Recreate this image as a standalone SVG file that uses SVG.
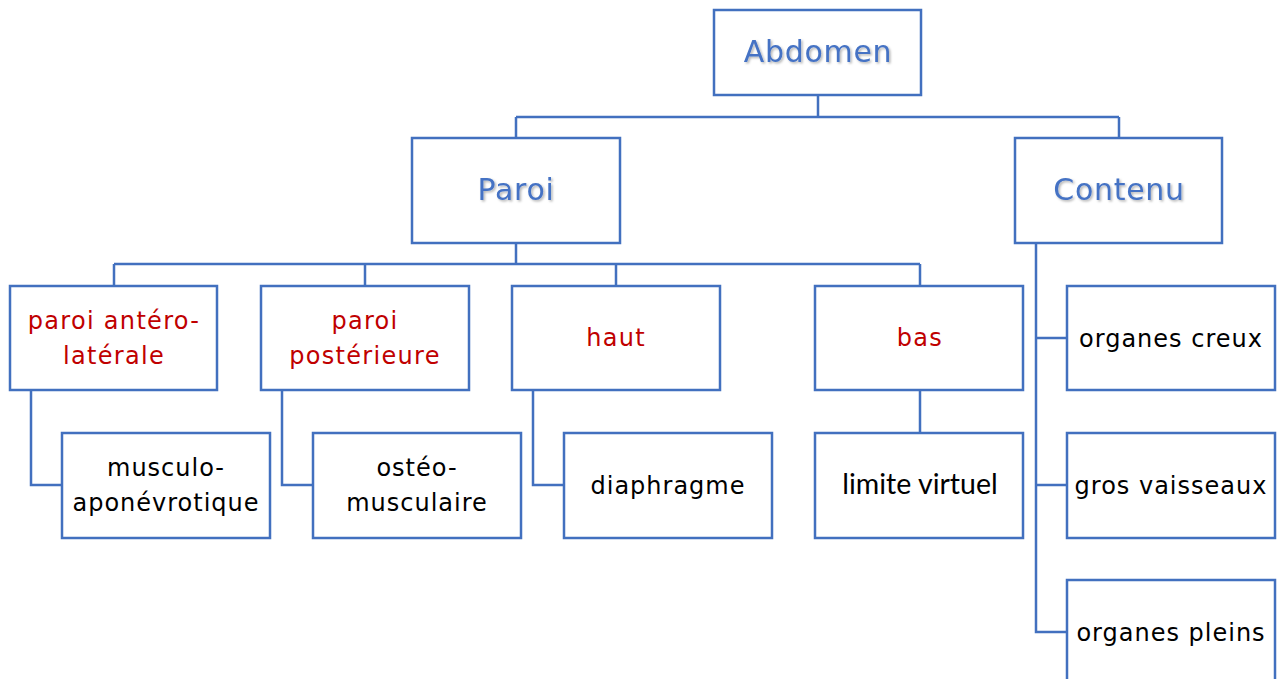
<svg xmlns="http://www.w3.org/2000/svg" width="1280" height="679" viewBox="0 0 1280 679">
<defs>
<filter id="sh" x="-10%" y="-30%" width="130%" height="160%">
<feDropShadow dx="1.5" dy="1.5" stdDeviation="1" flood-color="#000" flood-opacity="0.3"/>
</filter>
<style>
.box{fill:#fff;stroke:#4270BF;stroke-width:2.5}
.con{fill:none;stroke:#4270BF;stroke-width:2.5}
.t{font-family:"DejaVu Sans",Verdana,sans-serif;text-anchor:middle}
.top{font-size:30px;fill:#4472C4;filter:url(#sh);letter-spacing:0.7px}
.red{font-size:24px;fill:#C00000;letter-spacing:1.3px}
.blk{font-size:24px;fill:#000;letter-spacing:1px}
.cal{font-family:Lato,"Open Sans",sans-serif;font-size:28.5px;fill:#000;text-anchor:middle}
</style>
</defs>
<rect width="1280" height="679" fill="#fff"/>
<g id="connectors">
<path class="con" d="M818 95V117M516 117H1119M516 117V138M1119 117V138"/>
<path class="con" d="M516 243V264M114 264H920M114 264V286M365 264V286M616 264V286M920 264V286"/>
<path class="con" d="M31 390V485H62M282 390V485H313M533 390V485H564M920 390V433"/>
<path class="con" d="M1036 243V632H1067M1036 338H1067M1036 485H1067"/>
</g>
<g id="abdomen"><rect class="box" x="714" y="10" width="207" height="85"/><text class="t top" x="818" y="62">Abdomen</text></g>
<g id="paroi"><rect class="box" x="412" y="138" width="208" height="105"/><text class="t top" x="516" y="200">Paroi</text></g>
<g id="contenu"><rect class="box" x="1015" y="138" width="207" height="105"/><text class="t top" x="1119" y="200">Contenu</text></g>
<g id="paroi-antero-laterale"><rect class="box" x="10" y="286" width="207" height="104"/><text class="t red" x="114" y="329">paroi antéro-</text><text class="t red" x="114" y="364">latérale</text></g>
<g id="paroi-posterieure"><rect class="box" x="261" y="286" width="208" height="104"/><text class="t red" x="365" y="329">paroi</text><text class="t red" x="365" y="364">postérieure</text></g>
<g id="haut"><rect class="box" x="512" y="286" width="208" height="104"/><text class="t red" x="616" y="346">haut</text></g>
<g id="bas"><rect class="box" x="815" y="286" width="208" height="104"/><text class="t red" x="920" y="346">bas</text></g>
<g id="musculo"><rect class="box" x="62" y="433" width="208" height="105"/><text class="t blk" x="166" y="476">musculo-</text><text class="t blk" x="166" y="511">aponévrotique</text></g>
<g id="osteo"><rect class="box" x="313" y="433" width="208" height="105"/><text class="t blk" x="417" y="476">ostéo-</text><text class="t blk" x="417" y="511">musculaire</text></g>
<g id="diaphragme"><rect class="box" x="564" y="433" width="208" height="105"/><text class="t blk" x="668" y="494">diaphragme</text></g>
<g id="limite"><rect class="box" x="815" y="433" width="208" height="105"/><text class="cal" x="920" y="494">limite virtuel</text></g>
<g id="organes-creux"><rect class="box" x="1067" y="286" width="208" height="104"/><text class="t blk" x="1171" y="347">organes creux</text></g>
<g id="gros-vaisseaux"><rect class="box" x="1067" y="433" width="208" height="105"/><text class="t blk" x="1171" y="494">gros vaisseaux</text></g>
<g id="organes-pleins"><rect class="box" x="1067" y="580" width="208" height="105"/><text class="t blk" x="1171" y="641">organes pleins</text></g>
</svg>
